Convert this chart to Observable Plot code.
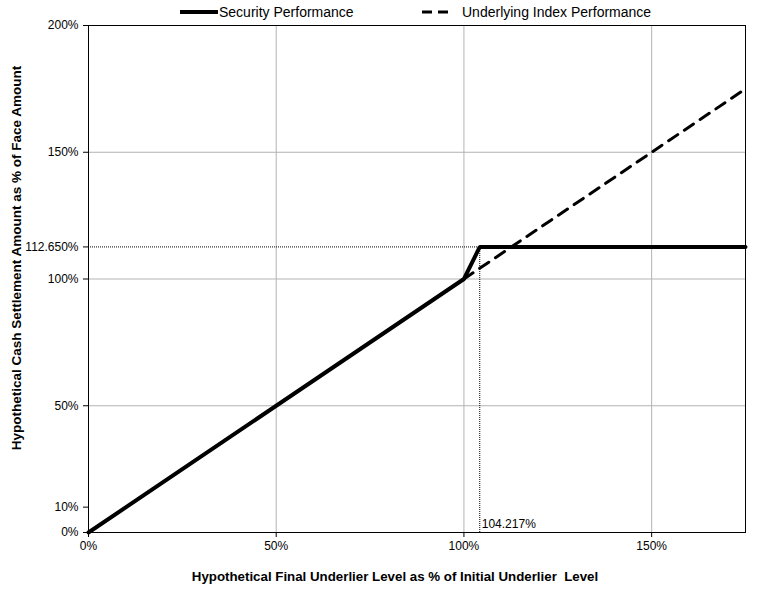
<!DOCTYPE html>
<html>
<head>
<meta charset="utf-8">
<script src="https://cdn.jsdelivr.net/npm/d3@7"></script>
<script src="https://cdn.jsdelivr.net/npm/@observablehq/plot@0.6"></script>
<style>
  body { margin: 0; background: #fff; font-family: "Liberation Sans", Arial, sans-serif; }
  #wrap { position: relative; width: 774px; height: 604px; }
  #legend { position: absolute; top: 2px; left: 0; width: 774px; height: 20px; font-size: 14px; color: #000; }
  .item { position: absolute; top: 0; display: flex; align-items: center; height: 20px; }
  .item svg { display: block; }
  #wrap svg.plot text { font-family: "Liberation Sans", Arial, sans-serif; }
</style>
</head>
<body>
<div id="wrap">
  <div id="legend"></div>
</div>
<script>
// ---- data ----
const securityX = [0, 100, 104.217, 175];
const securityY = [0, 100, 112.65, 112.65];
const indexX = [100, 175];
const indexY = [100, 175];
const capX = 104.217;
const capY = 112.65;
const xTicks = [0, 50, 100, 150];
const xTickLabels = ["0%", "50%", "100%", "150%"];
const yTicks = [0, 10, 50, 100, 112.65, 150, 200];
const yTickLabels = ["0%", "10%", "50%", "100%", "112.650%", "150%", "200%"];
const xGrid = [50, 100, 150];
const yGrid = [50, 100, 150];
const seriesNames = ["Security Performance", "Underlying Index Performance"];
const xTitle = "Hypothetical Final Underlier Level as % of Initial Underlier  Level";
const yTitle = "Hypothetical Cash Settlement Amount as % of Face Amount";
const capLabel = "104.217%";

const security = securityX.map((x, i) => ({x, y: securityY[i]}));
const index = indexX.map((x, i) => ({x, y: indexY[i]}));

const chart = Plot.plot({
  width: 774,
  height: 604,
  marginLeft: 88,
  marginRight: 29,
  marginTop: 25,
  marginBottom: 72,
  style: {fontFamily: "Liberation Sans, Arial, sans-serif", fontSize: "12px", color: "#000", background: "#fff"},
  x: {domain: [0, 175]},
  y: {domain: [0, 200]},
  marks: [
    Plot.ruleX(xGrid, {stroke: "#b3b3b3", strokeWidth: 1}),
    Plot.ruleY(yGrid, {stroke: "#b3b3b3", strokeWidth: 1}),
    Plot.ruleY([capY], {x1: 0, x2: capX, stroke: "#000", strokeWidth: 1, strokeDasharray: "1,1"}),
    Plot.ruleX([capX], {y1: 0, y2: capY, stroke: "#000", strokeWidth: 1, strokeDasharray: "1,1"}),
    Plot.text([capLabel], {x: capX, y: 0, textAnchor: "start", dx: 2, dy: -8, fontSize: 12, fill: "#000"}),
    Plot.line(index, {x: "x", y: "y", stroke: "#000", strokeWidth: 3, strokeDasharray: "11,8"}),
    Plot.line(security, {x: "x", y: "y", stroke: "#000", strokeWidth: 4, strokeLinejoin: "miter"}),
    Plot.frame({stroke: "#000", strokeWidth: 1}),
    Plot.axisX({ticks: xTicks, tickFormat: d => xTickLabels[xTicks.indexOf(d)], tickSize: 5, tickPadding: 4, label: null, fontSize: 12}),
    Plot.axisY({ticks: yTicks, tickFormat: d => yTickLabels[yTicks.indexOf(d)], tickSize: 5, tickPadding: 5, label: null, fontSize: 12}),
    Plot.text([xTitle], {frameAnchor: "bottom", textAnchor: "middle", dx: -22, dy: 48, fontWeight: "bold", fontSize: 13.3, fill: "#000"}),
    Plot.text([yTitle], {frameAnchor: "left", textAnchor: "middle", rotate: -90, dx: -72, dy: -21, fontWeight: "bold", fontSize: 13.5, fill: "#000"})
  ]
});
chart.classList.add("plot");
document.getElementById("wrap").appendChild(chart);

// legend
const legend = document.getElementById("legend");
const items = [
  {left: 180, name: seriesNames[0], width: 38, dash: null, sw: 4, gap: 1},
  {left: 422, name: seriesNames[1], width: 26, dash: "10,6", sw: 3, gap: 14}
];
for (const it of items) {
  const div = document.createElement("div");
  div.className = "item";
  div.style.left = it.left + "px";
  const s = d3.create("svg").attr("width", it.width).attr("height", 20);
  s.append("line").attr("x1", 0).attr("x2", it.width).attr("y1", 10).attr("y2", 10)
    .attr("stroke", "#000").attr("stroke-width", it.sw).attr("stroke-dasharray", it.dash);
  div.appendChild(s.node());
  const t = document.createElement("span");
  t.textContent = it.name;
  t.style.marginLeft = it.gap + "px";
  div.appendChild(t);
  legend.appendChild(div);
}
</script>
</body>
</html>
